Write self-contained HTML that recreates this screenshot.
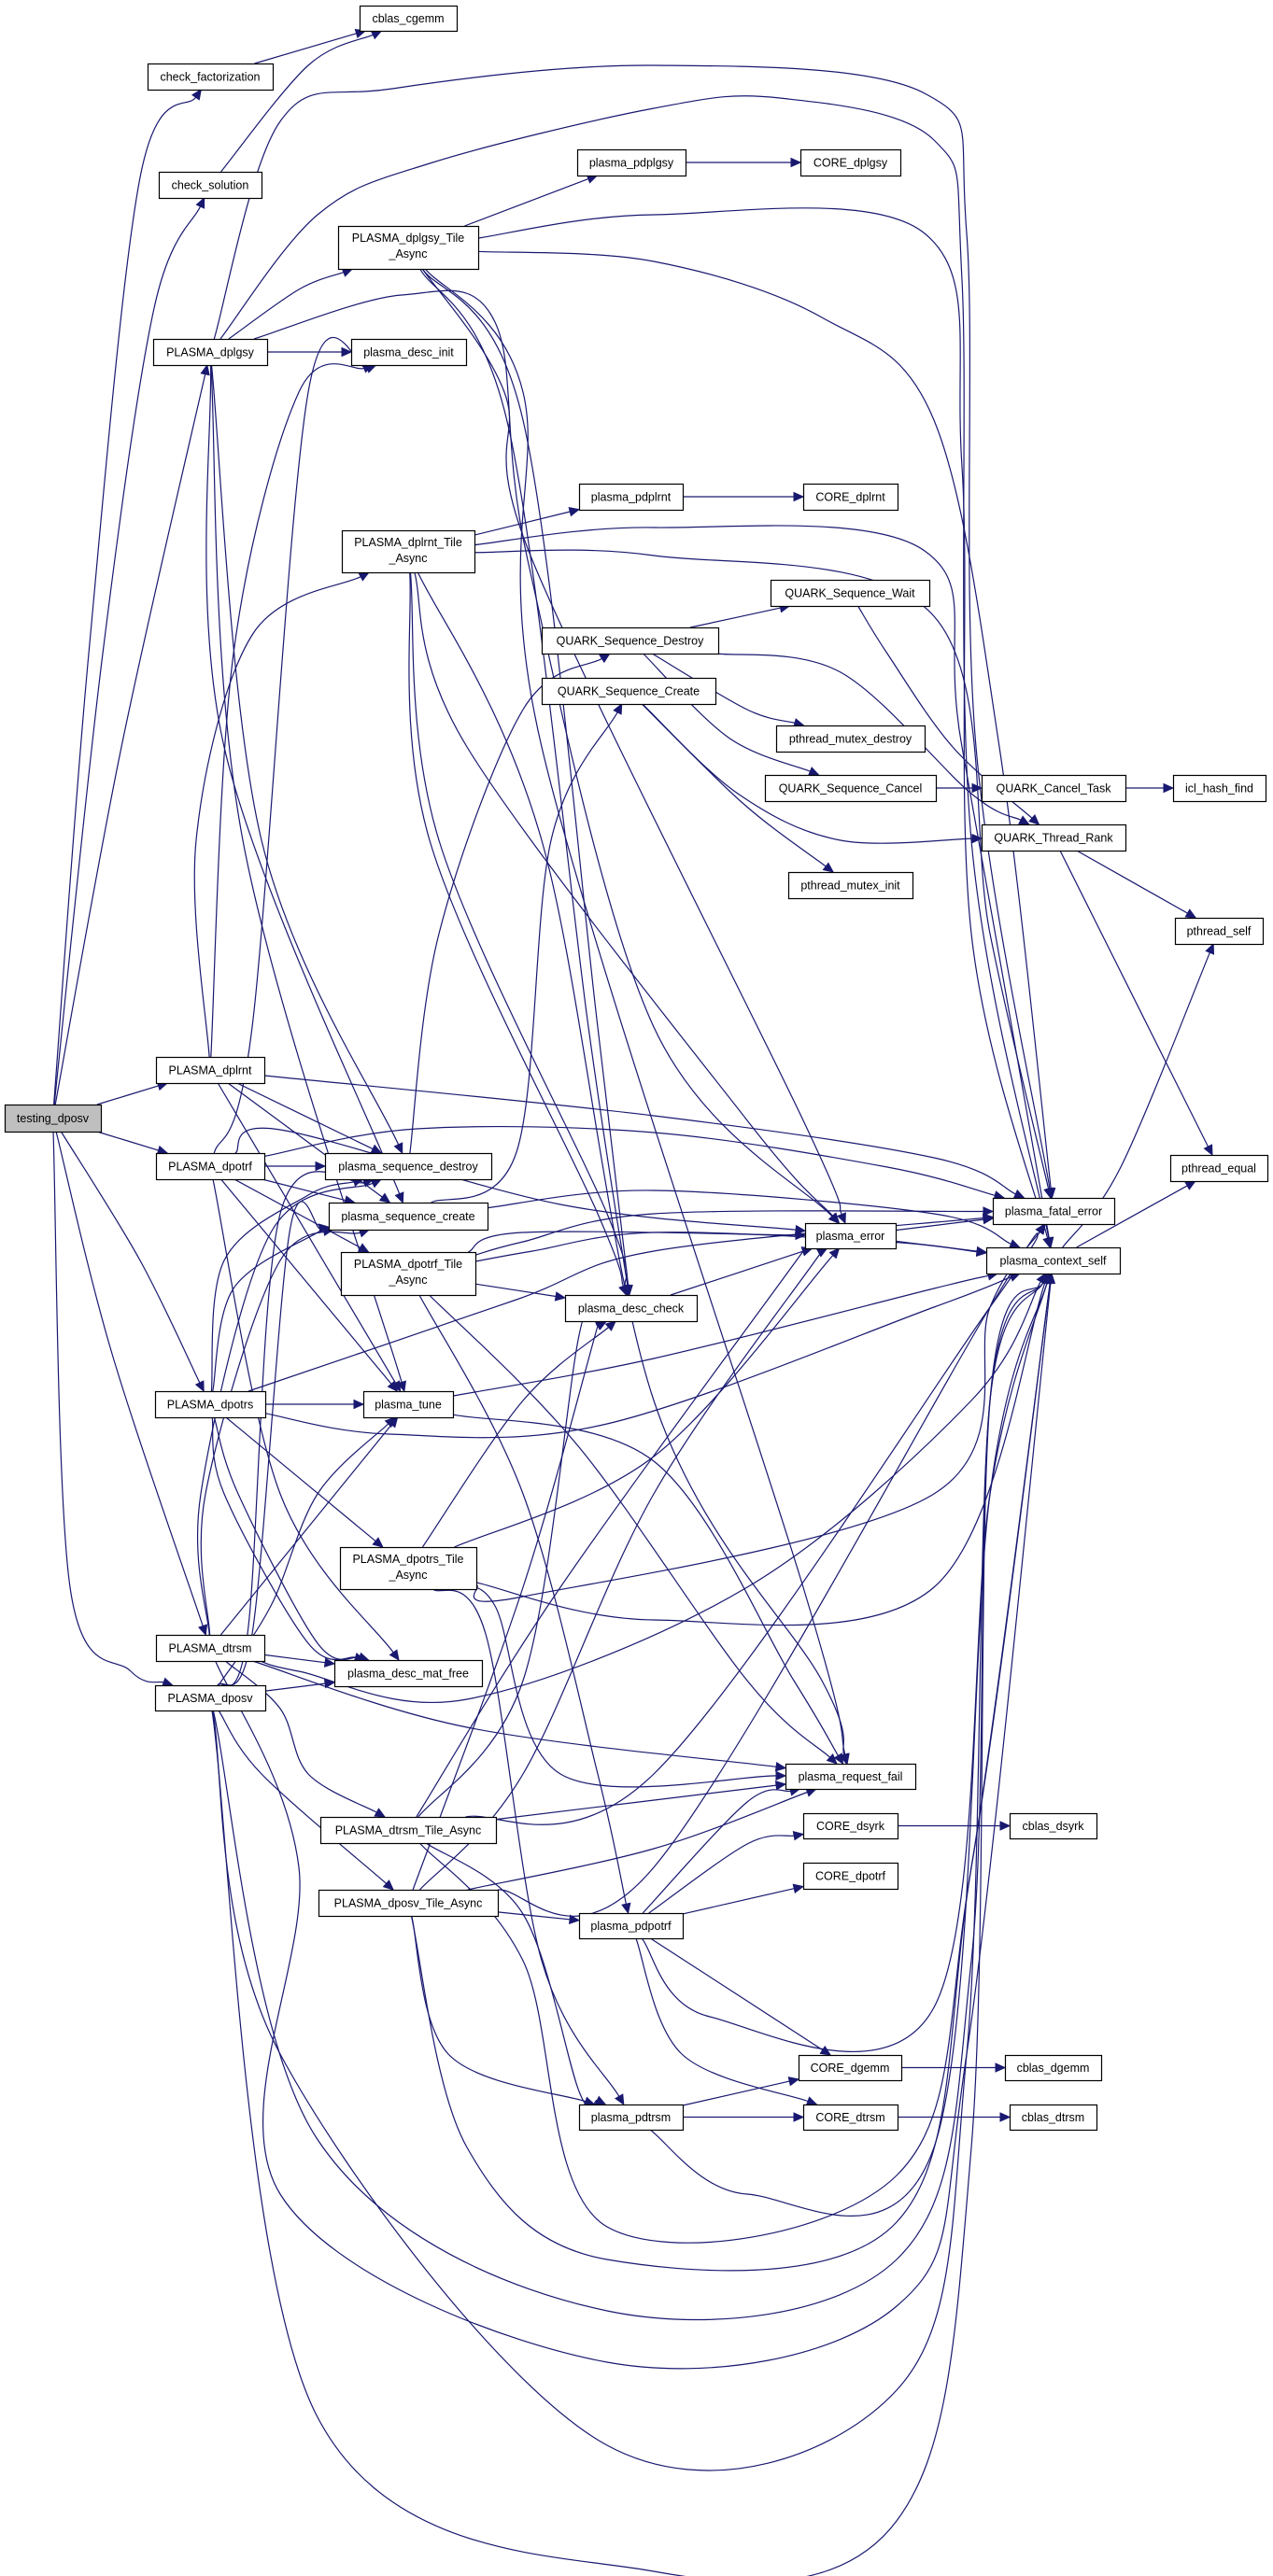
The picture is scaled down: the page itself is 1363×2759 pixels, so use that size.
<!DOCTYPE html>
<html><head><meta charset="utf-8"><style>
html,body{margin:0;padding:0;background:#fff;}
svg{display:block;}
text{font-family:"Liberation Sans",Arial,sans-serif;font-size:12.5px;fill:#000;}
</style></head><body>
<svg id="g" width="1363" height="2759" viewBox="0 0 1363 2759" xmlns="http://www.w3.org/2000/svg">
<g id="edges" fill="none" stroke="#191970" stroke-width="1.2"></g>
<g id="arrows" fill="#191970" stroke="#191970"></g>
<g id="nodes"></g>
</svg>
<script>
var N={
cg:[385,6,104,27,"cblas_cgemm"],
cf:[158,68,134,28,"check_factorization"],
cs:[170,184,110,28,"check_solution"],
dg:[164,363,122,28,"PLASMA_dplgsy"],
di:[376,363,123,28,"plasma_desc_init"],
dgT:[362,242,150,46,"PLASMA_dplgsy_Tile|_Async"],
pg:[618,160,116,28,"plasma_pdplgsy"],
Cg:[857,160,107,28,"CORE_dplgsy"],
drT:[366,568,142,45,"PLASMA_dplrnt_Tile|_Async"],
pr:[620,518,111,28,"plasma_pdplrnt"],
Cr:[860,518,101,28,"CORE_dplrnt"],
qw:[825,621,170,28,"QUARK_Sequence_Wait"],
qd:[580,672,189,28,"QUARK_Sequence_Destroy"],
qc:[580,726,186,28,"QUARK_Sequence_Create"],
pmd:[831,777,159,28,"pthread_mutex_destroy"],
qcan:[819,830,183,28,"QUARK_Sequence_Cancel"],
qct:[1051,830,154,28,"QUARK_Cancel_Task"],
ihf:[1256,830,99,28,"icl_hash_find"],
qtr:[1051,883,154,28,"QUARK_Thread_Rank"],
pmi:[844,934,133,28,"pthread_mutex_init"],
ps:[1258,983,94,28,"pthread_self"],
td:[5,1183,103,29,"testing_dposv"],
dr:[167,1132,116,28,"PLASMA_dplrnt"],
dpf:[167,1235,116,28,"PLASMA_dpotrf"],
sd:[348,1235,178,28,"plasma_sequence_destroy"],
sc:[352,1288,170,29,"plasma_sequence_create"],
dpfT:[365,1341,144,46,"PLASMA_dpotrf_Tile|_Async"],
dc:[605,1387,141,28,"plasma_desc_check"],
pe:[1253,1237,104,28,"pthread_equal"],
fe:[1063,1283,130,28,"plasma_fatal_error"],
er:[862,1310,97,27,"plasma_error"],
cx:[1056,1336,143,28,"plasma_context_self"],
dps:[166,1490,118,28,"PLASMA_dpotrs"],
tu:[389,1490,96,28,"plasma_tune"],
dpsT:[364,1657,146,45,"PLASMA_dpotrs_Tile|_Async"],
dt:[167,1751,116,28,"PLASMA_dtrsm"],
dmf:[358,1778,158,28,"plasma_desc_mat_free"],
dv:[166,1805,118,27,"PLASMA_dposv"],
rf:[841,1889,139,27,"plasma_request_fail"],
Cs:[860,1942,101,27,"CORE_dsyrk"],
bs:[1081,1942,93,27,"cblas_dsyrk"],
dtT:[343,1946,188,28,"PLASMA_dtrsm_Tile_Async"],
Cp:[860,1995,101,28,"CORE_dpotrf"],
dvT:[341,2024,192,28,"PLASMA_dposv_Tile_Async"],
pp:[620,2049,111,27,"plasma_pdpotrf"],
Cgm:[855,2201,110,27,"CORE_dgemm"],
bg:[1076,2201,103,27,"cblas_dgemm"],
pt:[620,2254,111,27,"plasma_pdtrsm"],
Ct:[860,2254,101,27,"CORE_dtrsm"],
bt:[1081,2254,93,27,"cblas_dtrsm"]
};
var E=[
["td","cf",[[95,700],[150,190]]],
["td","cs",[[110,700],[165,330]]],
["td","dg",[[130,800]]],
["td","dr",[]],["td","dpf",[]],
["td","dps",[[150,1350]]],
["td","dt",[[120,1450]]],
["td","dv",[[75,1700],[140,1790]]],
["cf","cg",[]],["cs","cg",[[330,70]]],
["dg","di",[]],["dg","dgT",[[320,310]]],
["dg","fe",[[300,130],[420,95],[700,70],[990,100],[1035,250],[1045,800]]],
["dg","cx",[[340,230],[460,175],[700,116],[835,105],[1000,150],[1030,300],[1040,900]]],
["dg","er",[[430,316],[530,345],[565,600],[700,1100]]],
["dg","sd",[[280,900]]],["dg","sc",[[240,800]]],["dg","tu",[[260,900]]],
["dgT","pg",[]],
["dgT","cx",[[700,230],[990,250],[1030,500],[1040,1000]]],
["dgT","fe",[[700,280],[880,340],[1000,450],[1070,800]]],
["dgT","dc",[[560,450],[640,1100]]],["dgT","dc",[[545,460],[630,1100]]],
["dgT","rf",[[560,420],[580,800],[860,1700]]],
["dgT","er",[[540,420],[570,600],[860,1200]]],
["pg","Cg",[]],["pr","Cr",[]],
["dr","drT",[[210,900],[270,680]]],
["dr","di",[[250,700],[320,420]]],
["dr","sd",[]],["dr","sc",[]],["dr","tu",[]],
["dr","fe",[[700,1195],[1000,1240]]],
["drT","pr",[]],
["drT","cx",[[700,565],[990,590],[1030,800]]],
["drT","fe",[[700,595],[1000,660],[1060,1000]]],
["drT","dc",[[470,900],[650,1300]]],["drT","dc",[[460,900],[640,1300]]],
["drT","er",[[500,800],[800,1200]]],
["drT","rf",[[580,900],[700,1500],[880,1800]]],
["qd","qw",[]],["qd","pmd",[[800,760]]],["qd","qcan",[[780,790]]],
["qd","qtr",[[900,720],[1040,850]]],
["qw","qtr",[[950,700],[1020,800]]],
["qc","pmi",[[795,860]]],["qc","qtr",[[790,850],[900,900]]],
["qcan","qct",[]],["qct","ihf",[]],
["qtr","ps",[]],["qtr","pe",[]],
["cx","ps",[[1200,1250]]],["cx","pe",[]],
["er","fe",[]],["er","cx",[]],["dc","er",[]],
["sd","qd",[[470,1000],[560,760]]],
["sc","qc",[[553,1234],[590,900]]],
["sc","cx",[[700,1275],[1000,1300]]],
["dpf","sd",[]],["dpf","sc",[]],["dpf","dpfT",[]],["dpf","tu",[]],
["dpf","di",[[270,1100],[330,420]]],
["dpf","dmf",[[300,1600]]],
["dpf","fe",[[446,1209],[700,1213],[950,1250]]],
["dpf","er",[[300,1210],[600,1290]]],
["dpfT","dc",[]],["dpfT","er",[[560,1320]]],
["dpfT","fe",[[560,1330],[700,1300]]],
["dpfT","cx",[[570,1340],[700,1320],[950,1330]]],
["dpfT","pp",[[560,1600],[640,1900]]],
["dpfT","rf",[[620,1550],[800,1800]]],
["dps","tu",[]],
["dps","sd",[[240,1350],[330,1280]]],
["dps","sc",[[250,1380],[340,1320]]],
["dps","dpsT",[]],
["dps","dmf",[[240,1600],[330,1760]]],["dps","dmf",[[255,1600],[340,1760]]],
["dps","fe",[[550,1393],[700,1340]]],
["dps","cx",[[417,1536],[650,1525],[1000,1400]]],
["tu","cx",[[700,1455],[1000,1380]]],
["tu","rf",[[700,1565],[850,1800]]],
["dpsT","dc",[[560,1500]]],["dpsT","er",[[700,1560]]],
["dpsT","cx",[[700,1735],[1000,1700]]],
["dpsT","pt",[[520,1750],[580,2100]]],
["dpsT","rf",[[530,1720],[600,1900]]],
["dpsT","fe",[[560,1710],[1000,1600],[1060,1400]]],
["dt","tu",[]],
["dt","sc",[[220,1600],[300,1350]]],
["dt","sd",[[215,1600],[290,1320]]],
["dt","dmf",[]],
["dt","dtT",[[300,1830],[330,1900]]],
["dt","cx",[[320,1790],[500,1820],[800,1700],[1040,1500]]],
["dt","cx",[[320,2000],[300,2350],[650,2530],[960,2470],[1035,2200]]],
["dt","rf",[[500,1850]]],
["dv","dmf",[]],["dv","dvT",[[280,1900]]],
["dv","sc",[[270,1750],[310,1320]]],
["dv","sd",[[265,1750],[300,1300]]],
["dv","tu",[[290,1720],[340,1600]]],
["dv","cx",[[339,2587],[700,2754],[960,2700],[1040,2300],[1060,1500]]],
["dv","cx",[[339,2290],[650,2475],[960,2420],[1040,2100],[1060,1500]]],
["dv","cx",[[300,2200],[650,2619],[960,2560],[1035,2200],[1060,1500]]],
["dtT","pt",[[560,2050],[620,2240]]],
["dtT","dc",[[560,1800],[620,1430]]],
["dtT","er",[[600,1700],[860,1340]]],
["dtT","rf",[]],
["dtT","fe",[[700,1900],[1060,1400]]],
["dtT","cx",[[560,2100],[650,2385],[960,2330],[1040,2000]]],
["dvT","pp",[]],["dvT","pt",[[480,2200]]],
["dvT","dc",[[560,1700],[640,1420]]],
["dvT","er",[[560,1900],[700,1600],[880,1340]]],
["dvT","rf",[[700,1980]]],
["dvT","fe",[[700,2000],[1060,1400]]],
["dvT","cx",[[500,2300],[650,2420],[960,2380],[1040,2000]]],
["pp","Cs",[[800,1975]]],["pp","Cp",[]],["pp","Cgm",[]],
["pp","Ct",[[730,2200]]],["pp","rf",[[800,1930]]],
["pp","cx",[[760,2160],[1000,2150],[1060,1600]]],
["pt","Cgm",[]],["pt","Ct",[]],
["pt","cx",[[800,2350],[1000,2300],[1060,1600]]],
["Cs","bs",[]],["Cgm","bg",[]],["Ct","bt",[]]
];
function ctr(n){var b=N[n];return [b[0]+b[2]/2,b[1]+b[3]/2];}
function clip(n,q){var b=N[n],c=ctr(n),dx=q[0]-c[0],dy=q[1]-c[1];
 var tx=dx?(b[2]/2)/Math.abs(dx):1e9,ty=dy?(b[3]/2)/Math.abs(dy):1e9,t=Math.min(tx,ty);
 return [c[0]+dx*t,c[1]+dy*t];}
var eg=document.getElementById('edges'),ag=document.getElementById('arrows'),ns="http://www.w3.org/2000/svg";
E.forEach(function(e){
 var v=e[2],first=v.length?v[0]:ctr(e[1]),last=v.length?v[v.length-1]:ctr(e[0]);
 var s=clip(e[0],first),t=clip(e[1],last);
 var dx=t[0]-last[0],dy=t[1]-last[1];
 if(!v.length){dx=t[0]-s[0];dy=t[1]-s[1];}
 var L=Math.sqrt(dx*dx+dy*dy)||1;dx/=L;dy/=L;
 var end=[t[0]-10*dx,t[1]-10*dy];
 var P=[s].concat(v).concat([end]);
 var d="M"+P[0][0].toFixed(1)+","+P[0][1].toFixed(1);
 for(var i=0;i<P.length-1;i++){
  var p0=P[i-1]||P[i],p1=P[i],p2=P[i+1],p3=P[i+2]||P[i+1];
  var c1=[p1[0]+(p2[0]-p0[0])/6,p1[1]+(p2[1]-p0[1])/6];
  var c2=[p2[0]-(p3[0]-p1[0])/6,p2[1]-(p3[1]-p1[1])/6];
  d+=" C"+c1[0].toFixed(1)+","+c1[1].toFixed(1)+" "+c2[0].toFixed(1)+","+c2[1].toFixed(1)+" "+p2[0].toFixed(1)+","+p2[1].toFixed(1);
 }
 var p=document.createElementNS(ns,"path");p.setAttribute("d",d);eg.appendChild(p);
 var px=-dy,py=dx;
 var a=document.createElementNS(ns,"polygon");
 a.setAttribute("points",t[0]+","+t[1]+" "+(end[0]+4.5*px)+","+(end[1]+4.5*py)+" "+(end[0]-4.5*px)+","+(end[1]-4.5*py));
 ag.appendChild(a);
});
var ng=document.getElementById('nodes');
for(var k in N){var b=N[k];
 var r=document.createElementNS(ns,"rect");
 r.setAttribute("x",b[0]+0.5);r.setAttribute("y",b[1]+0.5);r.setAttribute("width",b[2]);r.setAttribute("height",b[3]);
 r.setAttribute("fill",k=="td"?"#bfbfbf":"#fff");r.setAttribute("stroke","#000");r.setAttribute("stroke-width","1.2");
 ng.appendChild(r);
 var lines=b[4].split("|");
 lines.forEach(function(l,i){
  var t=document.createElementNS(ns,"text");
  t.setAttribute("x",b[0]+b[2]/2);t.setAttribute("text-anchor","middle");
  var y=lines.length==1?b[1]+b[3]/2+4.5:b[1]+17+i*17;
  t.setAttribute("y",y);t.textContent=l;ng.appendChild(t);
 });
}
</script>
</body></html>
